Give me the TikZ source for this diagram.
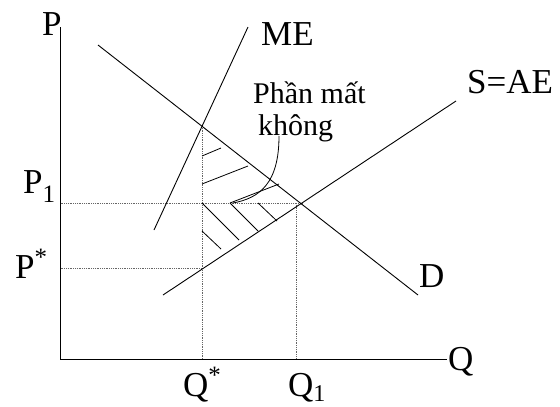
\documentclass[tikz,border=0pt]{standalone}
\usepackage{fontspec}
\setmainfont{Liberation Serif}
\begin{document}
\begin{tikzpicture}[x=1pt,y=-1pt,
  curve/.style={line width=0.9pt,black},
  axis/.style={line width=0.9pt,black},
  guide/.style={densely dotted,line width=0.8pt,black!60},
  hatch/.style={line width=0.8pt,black},
  biglab/.style={inner sep=0pt,anchor=base west,font=\fontsize{35}{40}\selectfont},
  smalllab/.style={inner sep=0pt,anchor=base west,font=\fontsize{30}{34}\selectfont}]
\useasboundingbox (0,0) rectangle (560,407);
% coordinates
\coordinate (O) at (60.5,359);
\coordinate (Ptop) at (60.5,27);
\coordinate (Qend) at (447,359);
\coordinate (me1) at (154,230);
\coordinate (me2) at (248,27);
\coordinate (d1) at (98,45);
\coordinate (d2) at (418,295);
\coordinate (s1) at (163,295);
\coordinate (s2) at (456,101);
\coordinate (E1) at (302,203);
\coordinate (P1a) at (60.5,203);
\coordinate (Q1a) at (296,203);
\coordinate (Q1b) at (296,359);
\coordinate (Mt) at (202,126);
\coordinate (Qsb) at (202,359);
\coordinate (Psa) at (60.5,268);
\coordinate (Psb) at (202,268);
% axes
\draw[axis] (Ptop) -- (O) -- (Qend);
% guides
\draw[guide] (P1a) -- (E1);
\draw[guide] (Q1a) -- (Q1b);
\draw[guide] (Mt) -- (Qsb);
\draw[guide] (Psa) -- (Psb);
% curves
\draw[curve] (me1) -- (me2);
\draw[curve] (d1) -- (d2);
\draw[curve] (s1) -- (s2);
% hatching
\draw[hatch] (202,156) -- (221,148);
\draw[hatch] (202,184) -- (248,166);
\draw[hatch] (230,203) -- (279,184);
\draw[hatch] (202,203) -- (239,240);
\draw[hatch] (230,203) -- (258,231);
\draw[hatch] (258,203) -- (277,221);
\draw[hatch] (202,231) -- (221,249);
% labels
\node[biglab] (lP) at (42,35) {P};
\node[biglab] (lP1) at (23,193) {P\raisebox{-9pt}{\fontsize{25}{25}\selectfont 1}};
\node[biglab] (lPs) at (15,278) {P\raisebox{13pt}{\fontsize{25}{25}\selectfont *}};
\node[biglab] (lQs) at (183,396) {Q\raisebox{13pt}{\fontsize{25}{25}\selectfont *}};
\node[biglab] (lQ1) at (288,396) {Q\raisebox{-5pt}{\fontsize{24}{24}\selectfont 1}};
\node[biglab] (lQ) at (448,370) {Q};
\node[biglab] (lD) at (419,287) {D};
\node[biglab] (lS) at (467,93) {S=AE};
\node[biglab] (lME) at (261,45) {ME};
\node[smalllab] (t1) at (253,103) {Phần mất};
\node[smalllab] (t2) at (258,135) {không};
% leader
\coordinate (lead) at (279,136);
\coordinate (leadend) at (233,203);
\draw[hatch] (lead) .. controls (279,183) and (260,198) .. (leadend);
\end{tikzpicture}
\end{document}
